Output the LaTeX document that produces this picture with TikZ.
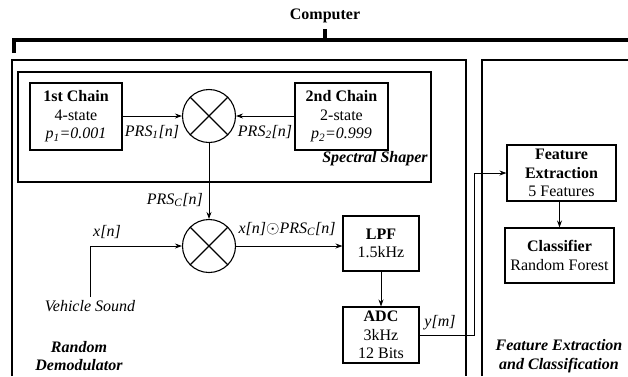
\documentclass[tikz,border=0pt]{standalone}
\usepackage{fontspec}
\setmainfont{Liberation Serif}
\usetikzlibrary{arrows.meta}
\begin{document}
\begin{tikzpicture}[x=1pt,y=-1pt,
  every node/.style={font=\fontsize{16}{18.5}\selectfont},
  blk/.style={draw,line width=1.1pt,align=center,inner sep=0pt},
  mult/.style={draw,circle,line width=1.1pt,minimum size=53pt,inner sep=0pt},
  arr/.style={line width=0.9pt,-{Stealth[length=7pt,width=5pt]}},
  lbl/.style={font=\fontsize{16}{18.5}\selectfont\itshape,inner sep=0pt},
  ttl/.style={font=\fontsize{16}{18.5}\selectfont\bfseries\itshape,align=center,inner sep=0pt},
  outer/.style={line width=1.4pt}]
\useasboundingbox (0,0) rectangle (628,376);
% bracket
\node[font=\fontsize{16}{18.5}\selectfont\bfseries,inner sep=0pt] (comp) at (325,16) {Computer};
\coordinate (tick) at (325,29);
\coordinate (bl) at (14,53);
\coordinate (br) at (628,40);
\draw[line width=3.5pt] (bl) -- (bl |- br) -- (br);
\draw[line width=3.5pt] (tick) -- (tick |- br);
% outer boxes
\draw[outer] (12,376) -- (12,60) -- (466,60) -- (466,376);
\draw[outer] (482,376) -- (482,60) -- (628,60);
% spectral shaper box
\draw[line width=1.3pt] (18,72) rectangle (431,182);
\node[ttl] (ss) at (375,159) {Spectral Shaper};
% chains
\node[blk,minimum width=92pt,minimum height=67pt] (c1) at (76,116.5)
  {\textbf{1st Chain}\\4-state\\\textit{p\textsubscript{1}=0.001}};
\node[blk,minimum width=93pt,minimum height=67pt] (c2) at (341.5,116.5)
  {\textbf{2nd Chain}\\2-state\\\textit{p\textsubscript{2}=0.999}};
% multipliers
\node[mult] (m1) at (209,116) {};
\draw[line width=1.1pt] (m1.north west) -- (m1.south east) (m1.north east) -- (m1.south west);
\node[mult] (m2) at (209,246) {};
\draw[line width=1.1pt] (m2.north west) -- (m2.south east) (m2.north east) -- (m2.south west);
% LPF, ADC
\node[blk,minimum width=76pt,minimum height=55pt] (lpf) at (381,243.5) {\textbf{LPF}\\1.5kHz};
\node[blk,minimum width=76pt,minimum height=56pt] (adc) at (381,335) {\textbf{ADC}\\3kHz\\12 Bits};
% feature extraction, classifier
\node[blk,minimum width=109pt,minimum height=56pt] (fe) at (561.5,173) {\textbf{Feature}\\\textbf{Extraction}\\5 Features};
\node[blk,minimum width=109pt,minimum height=55pt] (cl) at (559.5,255.5) {\textbf{Classifier}\\Random Forest};
% vehicle sound
\node[lbl,inner sep=3pt] (veh) at (90,306) {Vehicle Sound};
% labels
\node[lbl] (l1) at (152,132) {PRS\textsubscript{1}[n]};
\node[lbl] (l2) at (265,132) {PRS\textsubscript{2}[n]};
\node[lbl,anchor=east] (lc) at (203,200) {PRS\textsubscript{C}[n]};
\node[lbl] (lx) at (107,232) {x[n]};
\node[lbl] (lxp) at (287,229) {x[n]$\odot$PRS\textsubscript{C}[n]};
\node[lbl] (ly) at (440,323) {y[m]};
\node[ttl] (rd) at (79,356) {Random\\Demodulator};
\node[ttl] (fc) at (559,356) {Feature Extraction\\and Classification};
% connectors
\draw[arr] (c1.east |- m1) -- (m1.west);
\draw[arr] (c2.west |- m1) -- (m1.east);
\draw[arr] (m1.south) -- (m2.north);
\draw[arr] (veh.north) |- (m2.west);
\draw[arr] (m2.east) -- (lpf.west |- m2);
\draw[arr] (lpf.south) -- (adc.north);
\coordinate (bus) at (474,173);
\draw[arr] (adc.east) -| (bus) -- (fe.west);
\draw[arr] (fe.south -| cl.north) -- (cl.north);
\end{tikzpicture}
\end{document}
